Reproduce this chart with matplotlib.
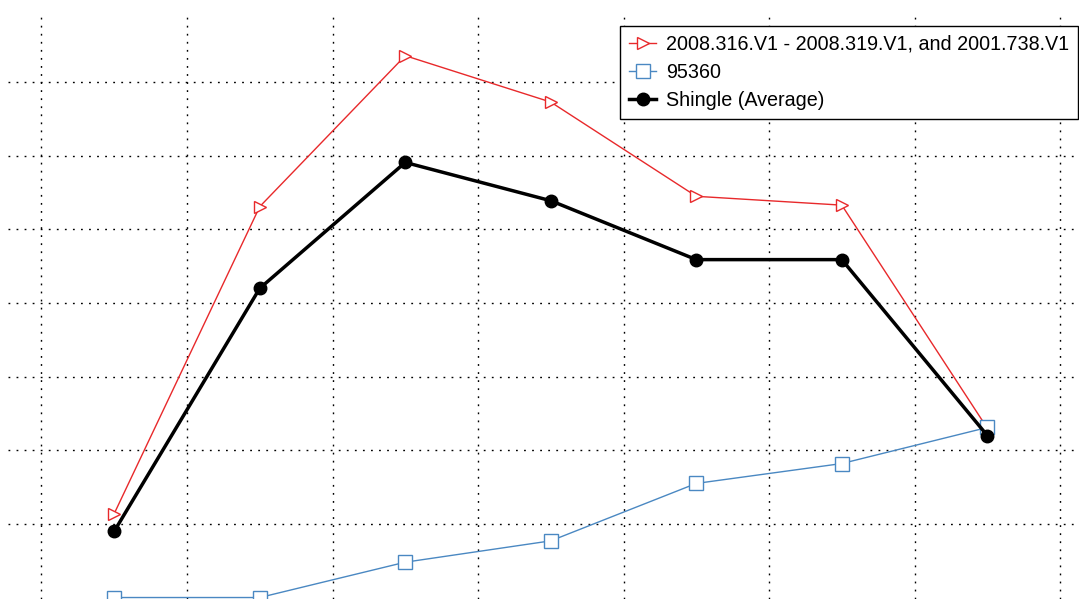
import matplotlib
matplotlib.use("Agg")
import matplotlib.pyplot as plt

plt.rcParams['font.family'] = ['Liberation Sans', 'DejaVu Sans']

# values (y in grid units)
x_pos = [0, 1, 2, 3, 4, 5, 6]
red_vals = [1.14, 5.31, 7.36, 6.73, 5.45, 5.33, 2.30]
blue_vals = [0.0, 0.0, 0.48, 0.77, 1.55, 1.82, 2.31]
black_vals = [0.90, 4.20, 5.91, 5.39, 4.59, 4.59, 2.20]
labels = ["2008.316.V1 - 2008.319.V1, and 2001.738.V1", "95360", "Shingle (Average)"]

W, H = 1079, 599
fig = plt.figure(figsize=(W / 100, H / 100), dpi=100)
ax = fig.add_axes([8 / W, 0, 1 - 8 / W, 1 - 13 / H])

ax.plot(x_pos, red_vals, color="#e8292b", lw=1.0, marker=">", ms=8.5,
        mfc="white", mec="#e8292b", mew=1.0, label=labels[0])
ax.plot(x_pos, blue_vals, color="#4a88c2", lw=1.0, marker="s", ms=9.5,
        mfc="white", mec="#4a88c2", mew=1.0, label=labels[1])
ax.plot(x_pos, black_vals, color="black", lw=2.5, marker="o", ms=9,
        label=labels[2])

ax.set_xlim(-0.73, 6.63)
ax.set_ylim(-0.02, 7.94)
ax.set_xticks([v - 0.5 for v in range(8)])
ax.set_yticks(range(1, 8))
ax.grid(True, color="black", lw=1.0, linestyle=(0, (1.3, 4.5)))
ax.tick_params(left=False, bottom=False, labelleft=False, labelbottom=False)
for s in ax.spines.values():
    s.set_visible(False)

leg = fig.legend(loc="upper left", bbox_to_anchor=(620 / W, 1 - 26 / H),
                 borderaxespad=0, fancybox=False, edgecolor="black",
                 framealpha=1, fontsize=14.2, handlelength=1.4,
                 handletextpad=0.5, borderpad=0.45, labelspacing=0.45)
leg.get_frame().set_linewidth(1.0)

fig.savefig("out.png", dpi=100)
